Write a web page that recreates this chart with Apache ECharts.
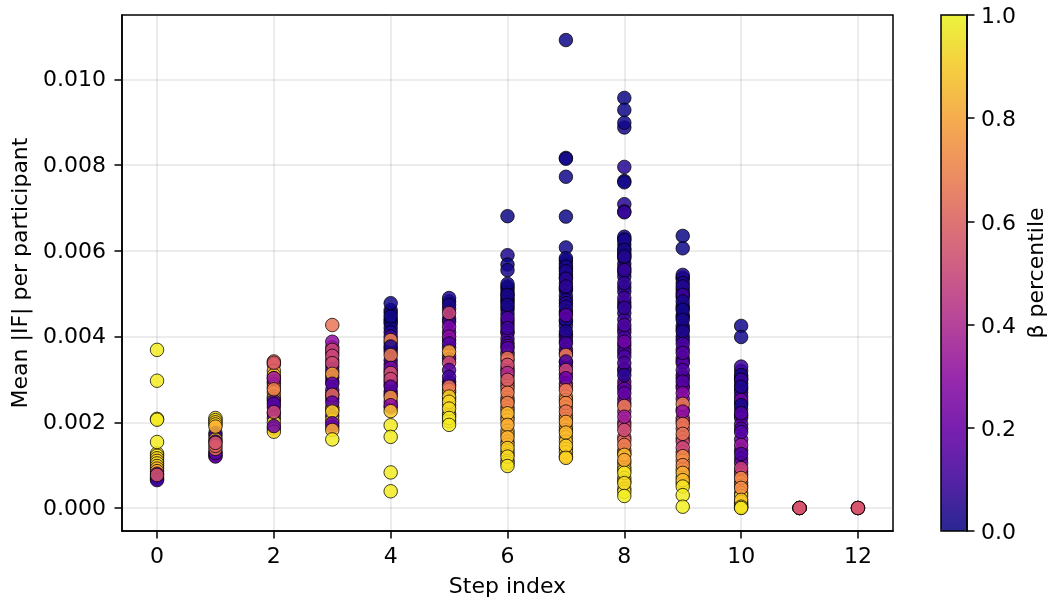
<!DOCTYPE html>
<html>
<head>
<meta charset="utf-8">
<style>html,body{margin:0;padding:0;background:#fff}#c{width:1054px;height:602px}</style>
<script src="https://cdn.jsdelivr.net/npm/echarts@6/dist/echarts.min.js"></script>
</head>
<body>
<div id="c"></div>
<script>
// Each pair: [mean |IF| x 1000, beta percentile]; later pairs are drawn on top
const step0 = [[1.27,.93],[1.22,.95],[1.16,.92],[1.1,.9],[1.04,.95],[.98,.88],[.92,.85],[.86,.8],[.8,.25],[.72,.12],[.68,.05],[.65,.1],[.77,.55],[3.69,.97],[2.97,.97],[2.08,.93],[2.06,.97],[1.54,.97]];
const step1 = [[2.1,.92],[2.05,.95],[2.0,.9],[1.95,.93],[1.75,.05],[1.68,.15],[1.6,.9],[1.55,.2],[1.3,.18],[1.22,.15],[1.2,.2],[1.28,.15],[1.38,.66],[1.45,.6],[1.9,.82],[1.52,.55]];
const step2 = [[3.42,.7],[3.35,.75],[3.2,.8],[3.1,.85],[3.03,.8],[2.95,.75],[2.9,.3],[2.82,.72],[2.7,.9],[2.6,.9],[2.55,.85],[2.5,.12],[2.35,.1],[2.2,.18],[2.1,.15],[2.0,.95],[1.85,.9],[1.78,.92],[3.39,.55],[3.03,.35],[2.77,.68],[2.43,.15],[1.91,.2],[2.24,.5]];
const step3 = [[3.75,.55],[3.62,.3],[3.45,.45],[3.3,.2],[3.2,.15],[3.05,.12],[2.95,.15],[2.75,.18],[2.65,.15],[2.55,.1],[2.35,.9],[2.3,.85],[2.15,.1],[2.05,.9],[1.9,.15],[4.27,.65],[3.88,.3],[3.69,.5],[3.55,.5],[3.38,.52],[3.13,.78],[2.9,.15],[2.64,.62],[2.46,.18],[2.25,.9],[1.98,.2],[1.82,.82],[1.6,.97]];
const step4 = [[4.62,.01],[4.55,.02],[4.4,.02],[4.35,.01],[4.3,.02],[4.2,.01],[4.1,.03],[3.85,.1],[3.72,.05],[3.65,.1],[3.45,.08],[3.35,.15],[3.2,.1],[3.08,.05],[2.95,.1],[2.88,.3],[2.72,.25],[2.65,.15],[2.48,.3],[2.35,.15],[4.78,.01],[4.47,.01],[4.0,.1],[3.92,.7],[3.77,.03],[3.57,.68],[3.27,.25],[3.15,.55],[3.01,.5],[2.83,.15],[2.59,.75],[2.4,.3],[2.26,.88],[1.93,.97],[1.66,.97],[.83,.97],[.39,.97]];
const step5 = [[4.82,.02],[4.65,.05],[4.42,.05],[4.35,.08],[4.1,.12],[3.92,.1],[3.75,.08],[3.55,.8],[3.48,.12],[2.95,.1],[2.88,.12],[2.7,.1],[2.75,.88],[2.55,.95],[2.4,.92],[2.2,.95],[2.15,.92],[2.03,.95],[4.9,.02],[4.74,.02],[4.55,.5],[4.23,.25],[4.0,.3],[3.84,.15],[3.65,.8],[3.39,.52],[3.22,.15],[3.06,.1],[2.83,.65],[2.6,.9],[2.48,.92],[2.32,.93],[2.1,.96],[1.94,.97]];
const step6 = [[5.17,.01],[5.12,.02],[5.05,.02],[4.98,.01],[4.9,.03],[4.85,.02],[4.8,.01],[4.68,.03],[4.62,.02],[4.52,.08],[4.36,.1],[4.28,.12],[4.12,.09],[4.08,.1],[3.95,.15],[3.85,.1],[3.78,.2],[3.63,.3],[3.58,.45],[3.44,.55],[3.26,.5],[3.2,.55],[3.08,.45],[2.92,.6],[2.85,.66],[2.78,.62],[2.57,.7],[2.5,.65],[2.35,.72],[2.28,.75],[2.12,.85],[2.05,.8],[1.8,.85],[1.72,.82],[1.55,.85],[1.48,.88],[1.32,.92],[1.25,.9],[1.1,.92],[1.05,.94],[6.81,0],[5.9,.03],[5.68,0],[5.55,.02],[5.23,.01],[4.97,.02],[4.74,.02],[4.43,.13],[4.2,.1],[3.73,.14],[3.5,.65],[3.34,.52],[3.15,.4],[2.99,.58],[2.69,.68],[2.45,.7],[2.21,.85],[1.94,.82],[1.65,.83],[1.4,.9],[1.2,.93],[.98,.95]];
const step7 = [[5.78,.02],[5.7,.01],[5.58,.02],[5.45,.02],[5.38,.03],[5.25,.08],[5.12,.04],[5.08,.03],[4.95,.01],[4.85,.04],[4.78,.05],[4.6,.03],[4.55,.1],[4.35,.05],[4.25,.04],[4.05,.08],[4.0,.12],[3.9,.1],[3.7,.14],[3.62,.2],[3.4,.18],[3.3,.12],[3.12,.2],[2.9,.15],[2.82,.6],[2.6,.82],[2.52,.75],[2.35,.72],[2.15,.82],[2.08,.78],[1.9,.85],[1.82,.8],[1.65,.88],[1.55,.85],[1.38,.88],[1.3,.9],[1.2,.92],[10.92,0],[8.17,.01],[8.15,.01],[7.73,.01],[6.8,0],[6.08,.01],[5.83,.01],[5.63,.02],[5.52,.03],[5.35,.05],[5.17,.06],[4.7,.03],[4.39,.02],[4.5,.17],[4.12,.03],[3.84,.12],[3.57,.68],[3.42,.12],[3.22,.5],[3.03,.2],[2.75,.65],[2.45,.7],[2.25,.66],[2.01,.8],[1.76,.85],[1.45,.9],[1.17,.9]];
const step8 = [[6.28,.02],[6.15,.03],[6.05,.02],[5.95,.03],[5.9,.02],[5.7,.02],[5.5,.05],[5.4,.04],[5.15,.05],[5.05,.06],[4.8,.07],[4.72,.08],[4.55,.08],[4.4,.09],[4.18,.12],[4.1,.14],[3.98,.12],[3.8,.15],[3.7,.15],[3.62,.12],[3.25,.25],[3.2,.1],[2.95,.2],[2.85,.3],[2.78,.15],[2.55,.25],[2.45,.3],[2.25,.35],[2.0,.42],[1.92,.5],[1.65,.55],[1.58,.62],[1.35,.72],[1.28,.8],[1.05,.85],[.95,.9],[.88,.92],[.7,.9],[.62,.92],[.45,.95],[.38,.95],[9.57,0],[9.29,0],[8.88,.02],[8.99,.01],[7.96,.05],[7.63,.01],[7.6,.01],[7.09,.05],[6.92,.09],[6.9,.07],[6.33,.02],[6.25,.02],[6.02,.02],[5.83,.03],[5.6,.1],[5.87,.04],[5.55,.07],[5.25,.07],[4.9,.1],[4.67,.07],[4.27,.13],[3.88,.22],[3.53,.13],[3.38,.13],[3.1,.05],[2.68,.18],[2.38,.68],[2.13,.35],[1.82,.52],[1.47,.68],[1.24,.85],[1.12,.8],[.82,.95],[.58,.93],[.28,.98]];
const step9 = [[5.38,.05],[5.35,.06],[5.1,.03],[5.02,.05],[4.92,.06],[4.72,.03],[4.66,.02],[4.5,.02],[4.45,.03],[4.25,.02],[4.18,.03],[4.0,.05],[3.92,.07],[3.7,.12],[3.5,.13],[3.43,.14],[3.38,.15],[3.1,.16],[3.03,.14],[2.85,.2],[2.8,.22],[2.55,.25],[2.3,.3],[2.1,.42],[2.03,.5],[1.85,.55],[1.63,.58],[1.55,.5],[1.3,.55],[1.1,.8],[.9,.85],[.72,.85],[.58,.9],[6.35,0],[6.06,0],[5.44,.03],[5.25,.02],[5.17,.04],[4.97,.09],[4.82,.02],[4.62,.01],[4.39,.02],[4.12,.03],[3.83,.12],[3.62,.15],[3.22,.13],[2.95,.14],[2.68,.28],[2.43,.68],[2.25,.3],[1.96,.66],[1.73,.65],[1.41,.5],[1.21,.72],[1.0,.7],[.82,.82],[.65,.86],[.5,.95],[.3,.97],[.03,.98]];
const step10 = [[3.2,.08],[3.05,.03],[3.0,.03],[2.9,.07],[2.78,.02],[2.7,.12],[2.6,.1],[2.45,.08],[2.3,.12],[2.16,.1],[2.1,.13],[1.95,.17],[1.85,.12],[1.6,.2],[1.35,.17],[1.15,.13],[1.05,.2],[.85,.42],[.78,.5],[.6,.72],[.52,.75],[.35,.85],[.28,.92],[.1,.95],[.06,.97],[.14,.92],[.01,.97],[4.25,.01],[3.99,.01],[3.3,.09],[3.1,.02],[2.99,.08],[2.83,.03],[2.52,.22],[2.4,.01],[2.21,.15],[1.77,.15],[1.47,.33],[1.26,.13],[.93,.48],[.7,.72],[.47,.72],[.19,.88],[.03,.95],[0,.95]];
const step11 = [[0,.55],[0,.55],[0,.55],[0,.55],[0,.55]];
const step12 = [[0,.55],[0,.55],[0,.55],[0,.55],[0,.55]];
const steps = [step0,step1,step2,step3,step4,step5,step6,step7,step8,step9,step10,step11,step12];
const xTicks = [0,2,4,6,8,10,12];
const yTicks = [0,.002,.004,.006,.008,.01];
const barTicks = [0,.2,.4,.6,.8,1];
const plasma = ['#0d0887','#41049d','#6a00a8','#8f0da4','#b12a90','#cc4778','#e16462','#f2844b','#fca636','#fcce25','#f0f921'];
const alpha = 0.85;
const rgba = plasma.map(h => `rgba(${parseInt(h.slice(1,3),16)},${parseInt(h.slice(3,5),16)},${parseInt(h.slice(5,7),16)},${alpha})`);
const font = 'DejaVu Sans', fs = 22, ink = '#000';
const lineS = {color:ink, width:1.5};
const split = {show:true, lineStyle:{color:'rgba(128,128,128,0.2)', width:1.5}};
const tick = v => ({show:true, length:7.5, lineStyle:lineS, customValues:v});
const chart = echarts.init(document.getElementById('c'), null, {renderer:'canvas'});
chart.setOption({
  animation:false,
  backgroundColor:'#fff',
  textStyle:{fontFamily:font},
  grid:[
    {left:122, right:161, top:15, bottom:71, show:true, outerBoundsMode:'none', borderColor:ink, borderWidth:1.5, backgroundColor:'transparent'},
    {left:941, width:26, top:15, bottom:71, show:true, outerBoundsMode:'none', z:5, borderColor:ink, borderWidth:1.5, backgroundColor:'transparent'}
  ],
  xAxis:[
    {type:'value', gridIndex:0, min:-0.6, max:12.6, name:'Step index', nameLocation:'middle', nameGap:45,
     nameTextStyle:{fontFamily:font,fontSize:fs,color:ink},
     axisLine:{show:true,onZero:false,lineStyle:lineS}, axisTick:tick(xTicks), splitLine:split,
     axisLabel:{customValues:xTicks,fontFamily:font,fontSize:fs,color:ink,margin:15}},
    {type:'value', gridIndex:1, min:0, max:1, show:false}
  ],
  yAxis:[
    {type:'value', gridIndex:0, min:-0.000537, max:0.011505, name:'Mean |IF| per participant', nameLocation:'middle', nameGap:90,
     nameTextStyle:{fontFamily:font,fontSize:fs,color:ink},
     axisLine:{show:true,onZero:false,lineStyle:lineS}, axisTick:tick(yTicks), splitLine:split,
     axisLabel:{customValues:yTicks,formatter:v=>v.toFixed(3),fontFamily:font,fontSize:fs,color:ink,margin:16,verticalAlign:'top',lineHeight:2}},
    {type:'value', gridIndex:1, position:'right', min:0, max:1, name:'β percentile', nameLocation:'middle', nameGap:59, nameRotate:90, z:10,
     nameTextStyle:{fontFamily:font,fontSize:fs,color:ink},
     axisLine:{show:true,onZero:false,lineStyle:lineS}, axisTick:tick(barTicks), splitLine:{show:false},
     axisLabel:{customValues:barTicks,formatter:v=>v.toFixed(1),fontFamily:font,fontSize:fs,color:ink,margin:14,verticalAlign:'top',lineHeight:5}}
  ],
  visualMap:{type:'continuous', min:0, max:1, dimension:2, seriesIndex:steps.map((s,i)=>i), show:true, calculable:false,
    hoverLink:false, text:null, showLabel:false, left:941, top:15, itemWidth:26, itemHeight:516, padding:0, borderWidth:0, z:1,
    inRange:{color:rgba}},
  series:steps.map((s,i)=>({type:'scatter', xAxisIndex:0, yAxisIndex:0, symbolSize:13.5, z:3,
    itemStyle:{opacity:1, borderColor:'rgba(0,0,0,0.75)', borderWidth:1},
    emphasis:{disabled:true},
    data:s.map(p=>[i, p[0]/1000, p[1]])}))
});
</script>
</body>
</html>
